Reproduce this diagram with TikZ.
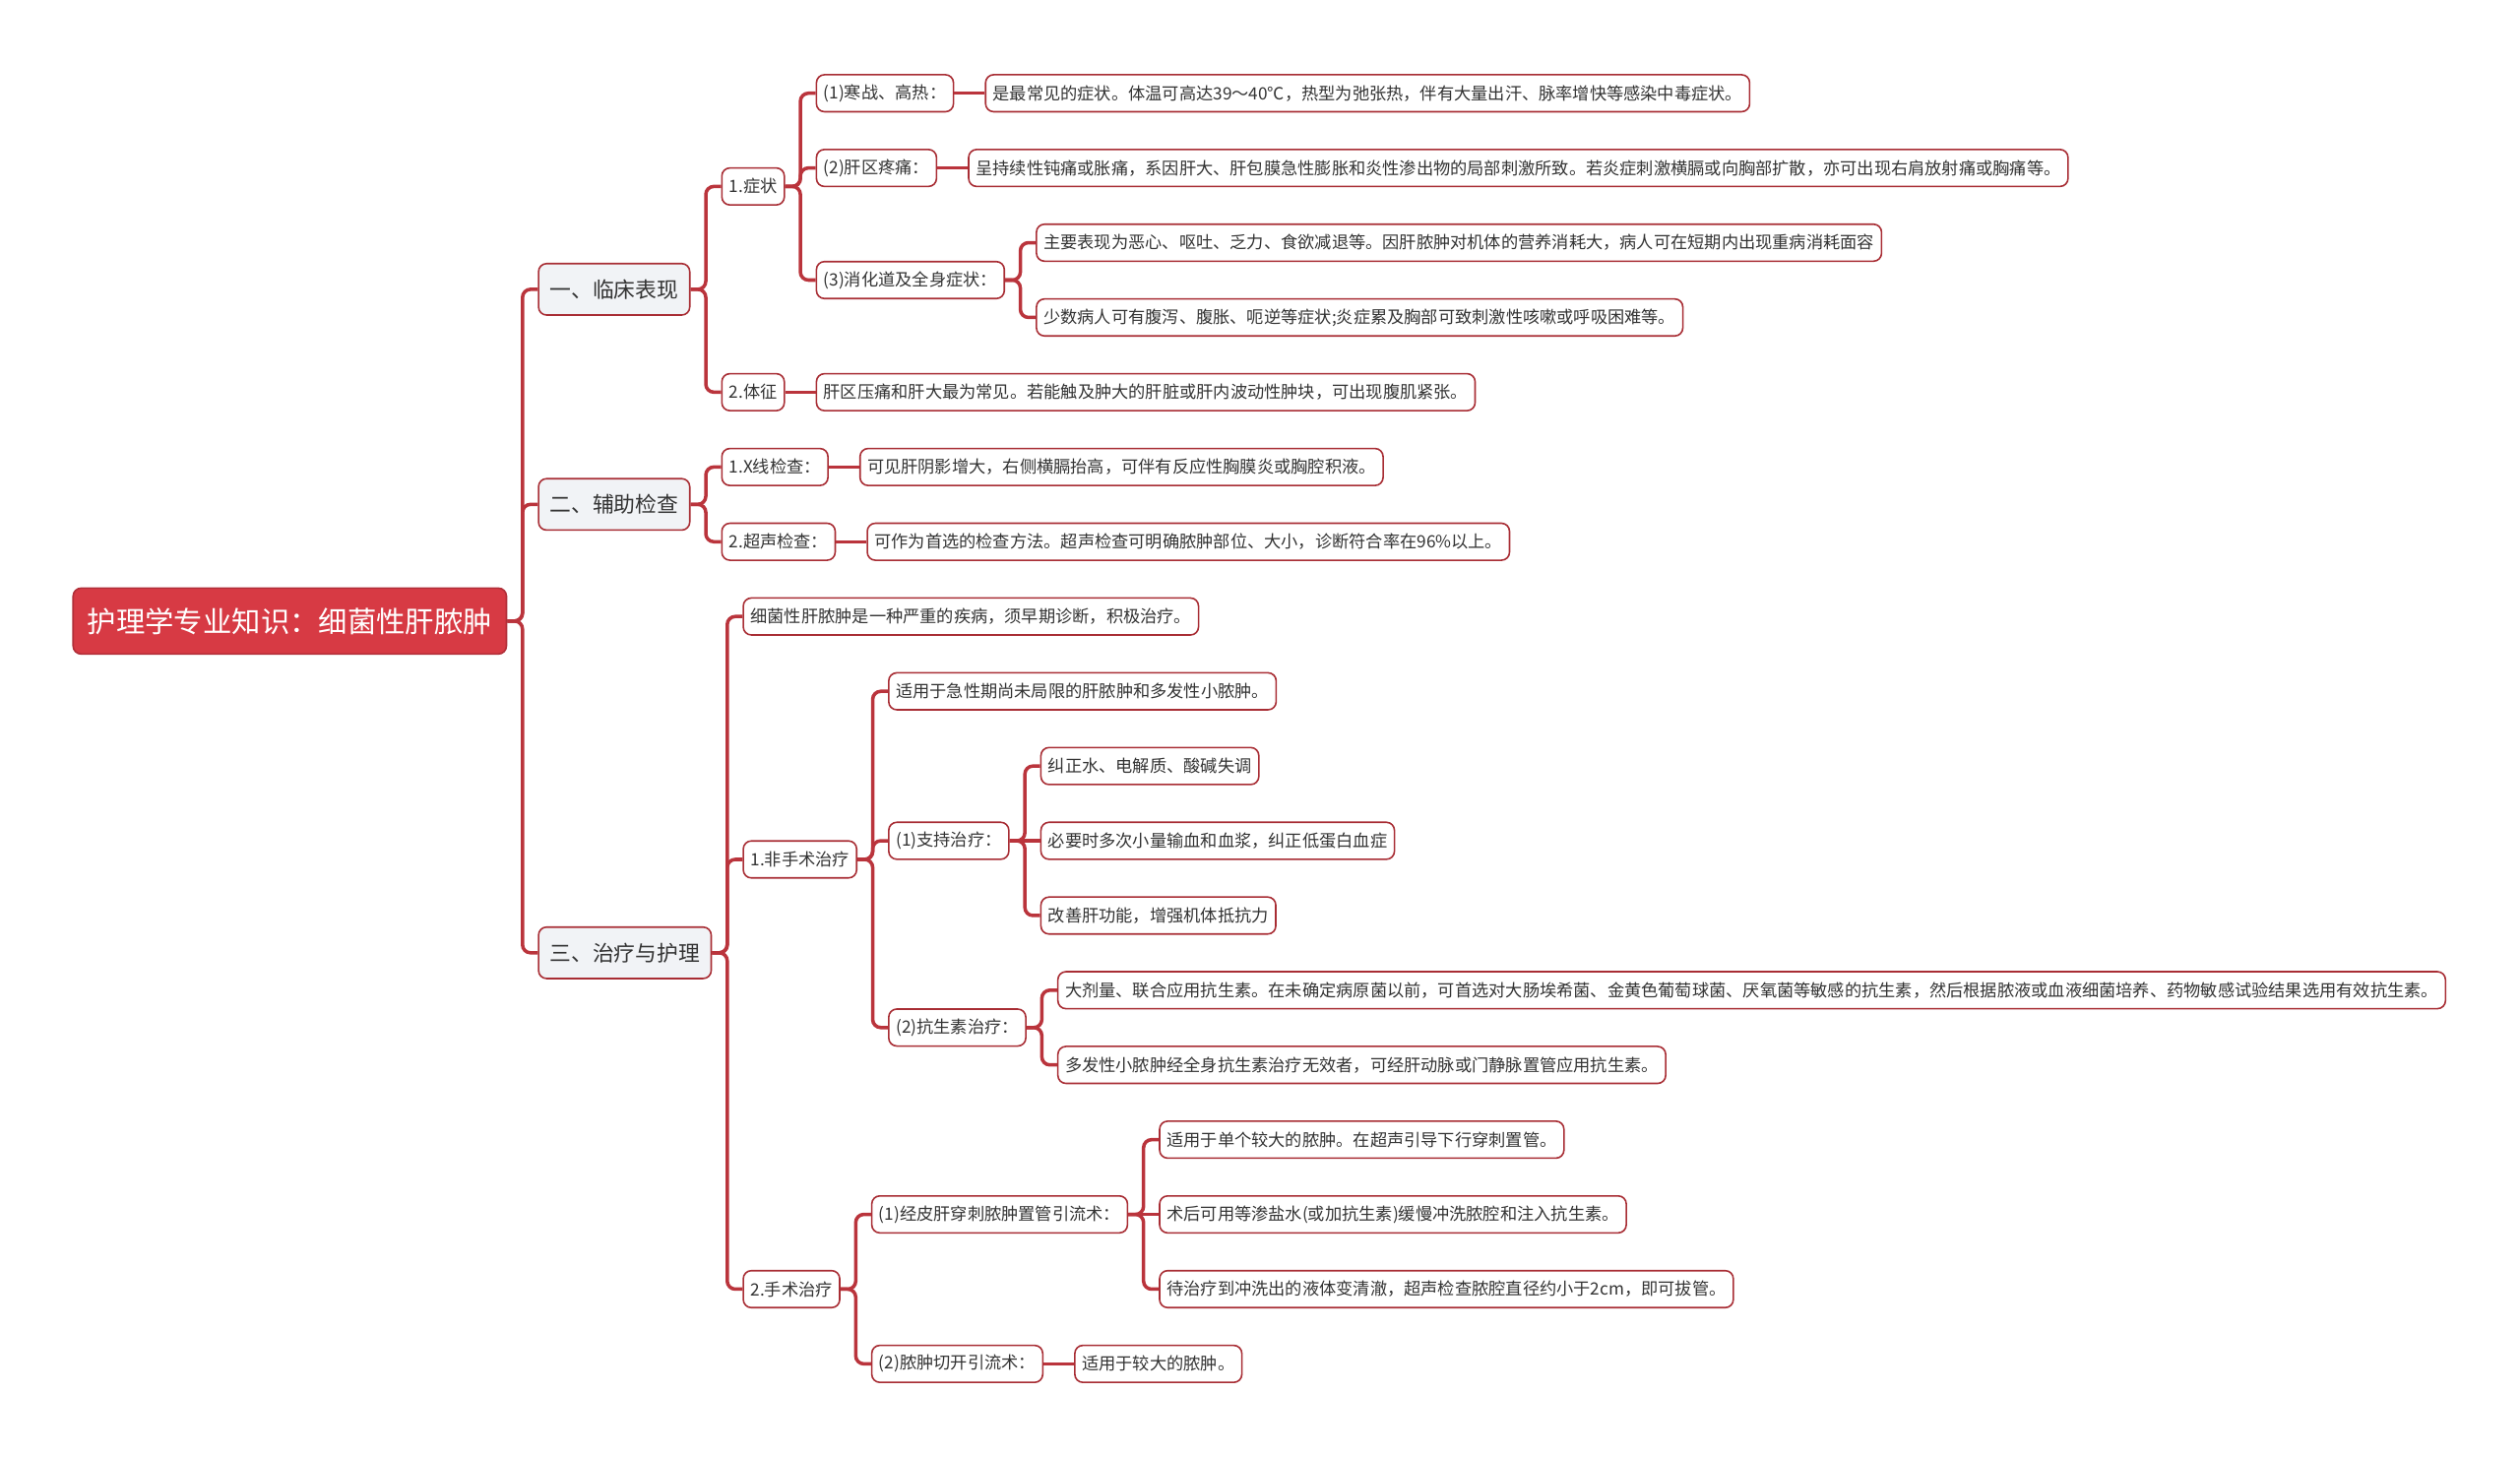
\documentclass[tikz,border=0pt]{standalone}
\usepackage{fontspec}
\usepackage{tikz}
\usetikzlibrary{positioning}
\newfontfamily\cjk{Noto Sans CJK SC}
\definecolor{linkred}{RGB}{186, 52, 60}
\definecolor{boxred}{RGB}{168, 45, 52}
\definecolor{rootred}{RGB}{215, 58, 68}
\definecolor{rootedge}{RGB}{176, 46, 56}
\definecolor{topicfill}{RGB}{241, 243, 246}
\definecolor{textgray}{RGB}{51, 51, 51}
\newlength{\px}
\setlength{\px}{0.032653cm}
\newlength{\nodedist}
\setlength{\nodedist}{19\px}
\newlength{\halfnodedist}
\setlength{\halfnodedist}{9.5\px}
\tikzset{
  box/.style={rectangle, rounded corners=5\px, draw=boxred, line width=0.9pt, fill=white, text=textgray,
    inner ysep=0pt, inner xsep=4.5\px, minimum height=23\px, font=\cjk\fontsize{9.8}{11}\selectfont},
  topic/.style={box, fill=topicfill, minimum height=32\px, inner xsep=7\px, font=\cjk\fontsize{12.4}{14}\selectfont},
  rootbox/.style={box, fill=rootred, draw=rootedge, text=white, minimum height=41\px, inner xsep=9\px,
    font=\cjk\fontsize{16.7}{19}\selectfont},
  link/.style={draw=linkred, line width=2pt, rounded corners=5\px},
}
\newcommand{\branch}[2]{\draw[link] (#1.east) -- ++(\halfnodedist,0) |- (#2.west);}
\newcommand{\joint}[2]{\draw[link] (#1.east) -- (#2.west);}

\begin{document}
\begin{tikzpicture}[x=0.032653cm, y=-0.032653cm]
\useasboundingbox (0,0) rectangle (1568,906);

\node[rootbox, anchor=west](liver) at (45,386.4) {护理学专业知识：细菌性肝脓肿};

\node[topic](clinic)[right=\nodedist of liver, yshift=206.4\px]{一、临床表现};
\node[topic](assist)[right=\nodedist of liver, yshift=72.6\px]{二、辅助检查};
\node[topic](treat)[right=\nodedist of liver, yshift=-206.4\px]{三、治疗与护理};
\branch{liver}{clinic}
\branch{liver}{assist}
\branch{liver}{treat}

\node[box](symptom)[right=\nodedist of clinic, yshift=64\px]{1.症状};
\node[box](sign)[right=\nodedist of clinic, yshift=-64\px]{2.体征};
\node[box](chills)[right=\nodedist of symptom, yshift=58\px]{(1)寒战、高热：};
\node[box](pain)[right=\nodedist of symptom, yshift=11.5\px]{(2)肝区疼痛：};
\node[box](digest)[right=\nodedist of symptom, yshift=-58.25\px]{(3)消化道及全身症状：};
\node[box](chillstxt)[right=\nodedist of chills]{是最常见的症状。体温可高达39～40℃，热型为弛张热，伴有大量出汗、脉率增快等感染中毒症状。};
\node[box](paintxt)[right=\nodedist of pain]{呈持续性钝痛或胀痛，系因肝大、肝包膜急性膨胀和炎性渗出物的局部刺激所致。若炎症刺激横膈或向胸部扩散，亦可出现右肩放射痛或胸痛等。};
\node[box](digestA)[right=\nodedist of digest, yshift=23.25\px]{主要表现为恶心、呕吐、乏力、食欲减退等。因肝脓肿对机体的营养消耗大，病人可在短期内出现重病消耗面容};
\node[box](digestB)[right=\nodedist of digest, yshift=-23.25\px]{少数病人可有腹泻、腹胀、呃逆等症状;炎症累及胸部可致刺激性咳嗽或呼吸困难等。};
\node[box](signtxt)[right=\nodedist of sign]{肝区压痛和肝大最为常见。若能触及肿大的肝脏或肝内波动性肿块，可出现腹肌紧张。};
\branch{clinic}{symptom}
\branch{clinic}{sign}
\branch{symptom}{chills}
\branch{symptom}{pain}
\branch{symptom}{digest}
\joint{chills}{chillstxt}
\joint{pain}{paintxt}
\branch{digest}{digestA}
\branch{digest}{digestB}
\joint{sign}{signtxt}

\node[box](xray)[right=\nodedist of assist, yshift=23.25\px]{1.X线检查：};
\node[box](echo)[right=\nodedist of assist, yshift=-23.25\px]{2.超声检查：};
\node[box](xraytxt)[right=\nodedist of xray]{可见肝阴影增大，右侧横膈抬高，可伴有反应性胸膜炎或胸腔积液。};
\node[box](echotxt)[right=\nodedist of echo]{可作为首选的检查方法。超声检查可明确脓肿部位、大小，诊断符合率在96\%以上。};
\branch{assist}{xray}
\branch{assist}{echo}
\joint{xray}{xraytxt}
\joint{echo}{echotxt}

\node[box](summary)[right=\nodedist of treat, yshift=209.25\px]{细菌性肝脓肿是一种严重的疾病，须早期诊断，积极治疗。};
\node[box](nonsurg)[right=\nodedist of treat, yshift=58.1\px]{1.非手术治疗};
\node[box](surg)[right=\nodedist of treat, yshift=-209.25\px]{2.手术治疗};
\branch{treat}{summary}
\branch{treat}{nonsurg}
\branch{treat}{surg}

\node[box](acute)[right=\nodedist of nonsurg, yshift=104.6\px]{适用于急性期尚未局限的肝脓肿和多发性小脓肿。};
\node[box](support)[right=\nodedist of nonsurg, yshift=11.6\px]{(1)支持治疗：};
\node[box](antibio)[right=\nodedist of nonsurg, yshift=-104.6\px]{(2)抗生素治疗：};
\node[box](fluid)[right=\nodedist of support, yshift=46.5\px]{纠正水、电解质、酸碱失调};
\node[box](plasma)[right=\nodedist of support]{必要时多次小量输血和血浆，纠正低蛋白血症};
\node[box](liverfn)[right=\nodedist of support, yshift=-46.5\px]{改善肝功能，增强机体抵抗力};
\node[box](antiA)[right=\nodedist of antibio, yshift=23.25\px]{大剂量、联合应用抗生素。在未确定病原菌以前，可首选对大肠埃希菌、金黄色葡萄球菌、厌氧菌等敏感的抗生素，然后根据脓液或血液细菌培养、药物敏感试验结果选用有效抗生素。};
\node[box](antiB)[right=\nodedist of antibio, yshift=-23.25\px]{多发性小脓肿经全身抗生素治疗无效者，可经肝动脉或门静脉置管应用抗生素。};
\branch{nonsurg}{acute}
\branch{nonsurg}{support}
\branch{nonsurg}{antibio}
\branch{support}{fluid}
\joint{support}{plasma}
\branch{support}{liverfn}
\branch{antibio}{antiA}
\branch{antibio}{antiB}

\node[box](percut)[right=\nodedist of surg, yshift=46.5\px]{(1)经皮肝穿刺脓肿置管引流术：};
\node[box](incise)[right=\nodedist of surg, yshift=-46.5\px]{(2)脓肿切开引流术：};
\node[box](drainA)[right=\nodedist of percut, yshift=46.5\px]{适用于单个较大的脓肿。在超声引导下行穿刺置管。};
\node[box](drainB)[right=\nodedist of percut]{术后可用等渗盐水(或加抗生素)缓慢冲洗脓腔和注入抗生素。};
\node[box](drainC)[right=\nodedist of percut, yshift=-46.5\px]{待治疗到冲洗出的液体变清澈，超声检查脓腔直径约小于2cm，即可拔管。};
\node[box](incisetxt)[right=\nodedist of incise]{适用于较大的脓肿。};
\branch{surg}{percut}
\branch{surg}{incise}
\branch{percut}{drainA}
\joint{percut}{drainB}
\branch{percut}{drainC}
\joint{incise}{incisetxt}

\end{tikzpicture}
\end{document}
